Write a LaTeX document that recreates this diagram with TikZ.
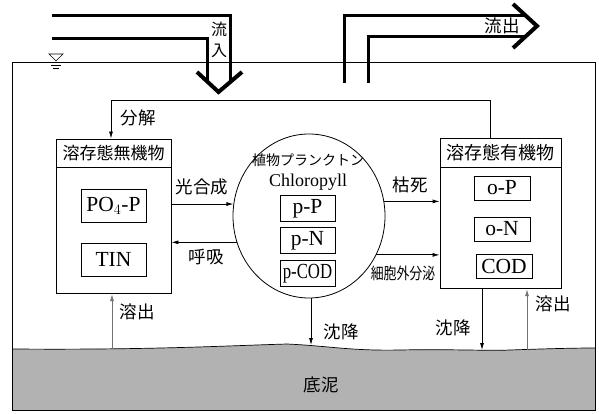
\documentclass[tikz,border=0pt]{standalone}
\usepackage{fontspec}
\setmainfont{Liberation Serif}
\newfontfamily\jp{Noto Sans CJK JP}
\usetikzlibrary{arrows.meta,shapes.geometric}
\tikzset{
  lab/.style={font=\jp\fontsize{17.5}{17.5}\selectfont, inner sep=0},
  smalllab/.style={font=\jp\fontsize{14}{14}\selectfont, inner sep=0},
  boxa/.style={draw, line width=0.8pt, inner sep=0},
  inbox/.style={draw, line width=0.9pt, inner sep=0, font=\fontsize{21.5}{21.5}\selectfont},
  arr/.style={-{Latex[length=7pt,width=4pt]}, line width=0.8pt},
  garr/.style={-{Latex[length=7pt,width=4pt]}, line width=0.8pt, draw=black!55},
  flow/.style={line width=3pt},
  chev/.style={line width=4pt, line join=miter, line cap=butt},
  wall/.style={line width=0.8pt}
}
\begin{document}
\begin{tikzpicture}[x=1pt,y=-1pt]
\useasboundingbox (0,0) rectangle (599,414);
% sediment
\fill[black!30] (12.5,349) .. controls (150,350) and (220,346) .. (287,344)
  .. controls (330,346) and (350,351) .. (400,350)
  .. controls (450,349) and (490,351) .. (510,350)
  .. controls (540,349) and (570,348) .. (595,348) -- (595,410.5) -- (12.5,410.5) -- cycle;
\draw[line width=0.7pt] (12.5,349) .. controls (150,350) and (220,346) .. (287,344)
  .. controls (330,346) and (350,351) .. (400,350)
  .. controls (450,349) and (490,351) .. (510,350)
  .. controls (540,349) and (570,348) .. (595,348);
\node[lab] (mud) at (321,385) {底泥};
% tank
\draw[wall] (12.5,410.5) -- (12.5,62) -- (595,62) -- (595,410.5) -- cycle;
% water level mark
\draw[line width=0.7pt] (49,54) -- (63,54) -- (56,61) -- cycle;
\draw[line width=0.7pt] (51,65) -- (61,65) (53,68) -- (59,68);
% inflow
\coordinate (in1) at (52,15.5);
\coordinate (in2) at (52,39);
\draw[flow] (in1) -- (230,15.5) -- (230,83);
\draw[flow] (in2) -- (207,39) -- (207,83);
\draw[chev] (197,72) -- (218.5,92) -- (242,72);
\node[lab, align=center, font=\jp\fontsize{16}{21}\selectfont] (inlab) at (219,40) {流\\入};
% outflow
\coordinate (out1) at (344,83);
\coordinate (out2) at (368,83);
\draw[flow] (out1) -- (344,15.5) -- (527,15.5);
\draw[flow] (out2) -- (368,37) -- (525,37);
\draw[chev] (513,4) -- (537,26) -- (513,48);
\node[lab] (outlab) at (502,26) {流出};
% left box
\node[boxa, minimum width=115, minimum height=28] (lhead) at (113.5,153) {};
\node[lab, font=\jp\fontsize{17}{17}\selectfont] (lheadt) at (113.5,153) {溶存態無機物};
\node[boxa, minimum width=115, minimum height=126, anchor=north] (lbody) at (lhead.south) {};
\node[inbox, minimum width=65, minimum height=33] (po4) at (113.5,205.5) {PO$_4$-P};
\node[inbox, minimum width=65, minimum height=33] (tin) at (113.5,259.5) {TIN};
% plankton ellipse
\node[ellipse, draw, line width=0.8pt, minimum width=152, minimum height=164, inner sep=0] (circ) at (309,216) {};
\node[lab, font=\jp\fontsize{14}{14}\selectfont] (plk) at (308,160) {植物プランクトン};
\node[inner sep=0, font=\fontsize{18}{18}\selectfont] (chl) at (308,182) {Chloropyll};
\node[inbox, minimum width=55, minimum height=26] (pP) at (307.5,208.5) {p-P};
\node[inbox, minimum width=55, minimum height=26] (pN) at (307.5,240.5) {p-N};
\node[inbox, minimum width=55, minimum height=26] (pCOD) at (307.5,273.5) {\scalebox{0.78}[1]{p-COD}};
% right box
\node[boxa, minimum width=121, minimum height=29] (rhead) at (500.5,152.5) {};
\node[lab, font=\jp\fontsize{18}{18}\selectfont] (rheadt) at (500.5,152.5) {溶存態有機物};
\node[boxa, minimum width=121, minimum height=121, anchor=north] (rbody) at (rhead.south) {};
\node[inbox, minimum width=56, minimum height=24] (oP) at (502,188) {o-P};
\node[inbox, minimum width=56, minimum height=24] (oN) at (502,229) {o-N};
\node[inbox, minimum width=56, minimum height=24] (cod) at (504,266) {COD};
% decomposition
\coordinate (decR) at (490,100);
\coordinate (decL) at (111,100);
\draw[arr] (rhead.north -| decR) -- (decR) -- (decL) -- (lhead.north -| decL);
\node[lab] (declab) at (138,118) {分解};
% photosynthesis / respiration
\draw[arr] (lbody.east |- circ.171) -- (circ.171);
\node[lab] (photolab) at (202,187) {光合成};
\draw[arr] (circ.200) -- (lbody.east |- circ.200);
\node[lab] (resplab) at (206,257) {呼吸};
% death / excretion
\draw[arr] (circ.11) -- (rbody.west |- circ.11);
\node[lab] (deathlab) at (410,185) {枯死};
\draw[arr] (circ.330) -- (rbody.west |- circ.330);
\node[smalllab] (exlab) at (403,273) {\scalebox{0.92}[1.15]{細胞外分泌}};
% sediment exchanges
\coordinate (sedL) at (112,349);
\coordinate (sedM) at (311,345);
\coordinate (sedR1) at (482,350);
\coordinate (sedR2) at (527,349.5);
\draw[garr] (sedL) -- (lbody.south -| sedL);
\node[lab] (dissL) at (137,312) {溶出};
\draw[arr] (circ.south -| sedM) -- (sedM);
\node[lab] (setM) at (341,332) {沈降};
\draw[arr] (rbody.south -| sedR1) -- (sedR1);
\node[lab] (setR) at (453,328) {沈降};
\draw[garr] (sedR2) -- (rbody.south -| sedR2);
\node[lab] (dissR) at (553,304) {溶出};
\end{tikzpicture}
\end{document}
